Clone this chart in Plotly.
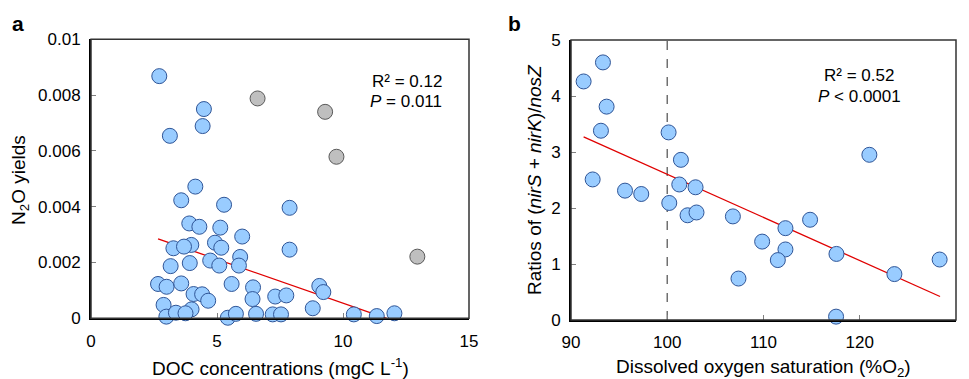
import plotly.graph_objects as go

# ---------- Panel a data ----------
doc_blue = [2.71, 3.13, 4.48, 4.43, 4.14, 3.58, 5.28, 7.88, 3.90, 4.30, 5.13, 6.00, 4.92, 3.98,
            3.27, 3.69, 5.17, 7.88, 5.92, 4.73, 3.92, 3.16, 5.09, 5.87, 2.66, 3.00, 3.58, 5.58,
            6.43, 4.07, 4.41, 4.65, 6.41, 7.31, 7.75, 9.06, 9.22, 8.80, 2.88, 3.99, 2.99, 3.37,
            3.75, 5.43, 5.75, 6.55, 7.21, 7.54, 10.43, 11.34, 12.04]
n2o_blue = [0.00868, 0.00654, 0.00750, 0.00689, 0.00472, 0.00423, 0.00407, 0.00396, 0.00340,
            0.00328, 0.00325, 0.00293, 0.00271, 0.00263, 0.00251, 0.00257, 0.00253, 0.00246,
            0.00220, 0.00207, 0.00198, 0.00187, 0.00189, 0.00189, 0.00123, 0.00113, 0.00125,
            0.00123, 0.00111, 0.00087, 0.00086, 0.00063, 0.00069, 0.00078, 0.00082, 0.00116,
            0.00094, 0.00036, 0.00048, 0.00032, 0.00006, 0.00020, 0.00018, 0.00002, 0.00016,
            0.00016, 0.00014, 0.00014, 0.00014, 0.00008, 0.00018]
doc_grey = [6.61, 9.29, 9.74, 12.95]
n2o_grey = [0.00788, 0.00740, 0.00579, 0.00221]
fit_a_x = [2.66, 11.73]
fit_a_y = [0.00285, 0.0]
a_xticks = [0, 5, 10, 15]
a_yticks = [0, 0.002, 0.004, 0.006, 0.008, 0.01]
a_yticktext = ["0", "0.002", "0.004", "0.006", "0.008", "0.01"]

# ---------- Panel b data ----------
do_sat = [91.31, 93.32, 93.70, 93.11, 100.14, 101.42, 121.0, 92.25, 95.61, 97.30, 101.25,
          102.94, 100.21, 102.11, 103.04, 106.82, 114.84, 112.28, 109.86, 112.28, 111.49,
          117.58, 128.3, 123.6, 107.4, 117.54]
ratio = [4.26, 4.60, 3.81, 3.38, 3.35, 2.86, 2.95, 2.51, 2.31, 2.25, 2.42, 2.37, 2.09, 1.87,
         1.92, 1.85, 1.79, 1.64, 1.40, 1.26, 1.07, 1.18, 1.08, 0.82, 0.74, 0.06]
fit_b_x = [91.31, 128.34]
fit_b_y = [3.27, 0.42]
threshold_x = [100, 100]
threshold_y = [0, 5]
b_xticks = [90, 100, 110, 120, 130]
b_yticks = [0, 1, 2, 3, 4, 5]

FONT = "Liberation Sans, Arial, sans-serif"
blue_fill = "#99CCFF"
blue_line = "#2F5597"
grey_fill = "#BFBFBF"
grey_line = "#595959"

# page body has an 8px margin: figure is drawn at (8, 8) inside the 969x379 window
OFF = 8
W, H = 969 - OFF, 379 - OFF

def px(x):
    return (x - OFF) / W

def py(y):
    return 1 - (y - OFF) / H

fig = go.Figure()

fig.add_trace(go.Scatter(x=fit_a_x, y=fit_a_y, mode="lines",
                         line=dict(color="#E00000", width=1.3), xaxis="x", yaxis="y",
                         showlegend=False))
fig.add_trace(go.Scatter(x=doc_blue, y=n2o_blue, mode="markers",
                         marker=dict(size=15, color=blue_fill, line=dict(color=blue_line, width=1)),
                         xaxis="x", yaxis="y", showlegend=False, cliponaxis=False))
fig.add_trace(go.Scatter(x=doc_grey, y=n2o_grey, mode="markers",
                         marker=dict(size=15, color=grey_fill, line=dict(color=grey_line, width=1)),
                         xaxis="x", yaxis="y", showlegend=False))

fig.add_trace(go.Scatter(x=threshold_x, y=threshold_y, mode="lines",
                         line=dict(color="#707070", width=1.5, dash="dash"),
                         xaxis="x2", yaxis="y2", showlegend=False))
fig.add_trace(go.Scatter(x=fit_b_x, y=fit_b_y, mode="lines",
                         line=dict(color="#E00000", width=1.3), xaxis="x2", yaxis="y2",
                         showlegend=False))
fig.add_trace(go.Scatter(x=do_sat, y=ratio, mode="markers",
                         marker=dict(size=15, color=blue_fill, line=dict(color=blue_line, width=1)),
                         xaxis="x2", yaxis="y2", showlegend=False, cliponaxis=False))

ax_dom_a = [px(91), px(469)]
ay_dom_a = [py(318.3), py(39.3)]
ax_dom_b = [px(571), px(956)]
ay_dom_b = [py(320), py(40)]

common_ax = dict(showgrid=False, zeroline=False, showline=True, linecolor="black", linewidth=2,
                 ticks="inside", ticklen=5, tickcolor="#808080", tickwidth=1, automargin=False,
                 tickfont=dict(family=FONT, size=17, color="black"))

fig.update_layout(
    width=W, height=H, margin=dict(l=0, r=0, t=0, b=0, autoexpand=False),
    plot_bgcolor="white", paper_bgcolor="white",
    xaxis=dict(domain=ax_dom_a, range=[0, 15], tickvals=a_xticks, anchor="y",
               ticklabelstandoff=6, **common_ax),
    yaxis=dict(domain=ay_dom_a, range=[0, 0.01], tickvals=a_yticks, ticktext=a_yticktext,
               anchor="x", ticklabelstandoff=5, **common_ax),
    xaxis2=dict(domain=ax_dom_b, range=[90, 130], tickvals=b_xticks, anchor="y2",
                ticklabelstandoff=6, **common_ax),
    yaxis2=dict(domain=ay_dom_b, range=[0, 5], tickvals=b_yticks, anchor="x2",
                ticklabelstandoff=5, **common_ax),
)

# frames (thin top/right edges)
for xd, yd in [(ax_dom_a, ay_dom_a), (ax_dom_b, ay_dom_b)]:
    fig.add_shape(type="rect", xref="paper", yref="paper", x0=xd[0], x1=xd[1], y0=yd[0], y1=yd[1],
                  line=dict(color="#333333", width=1.5), layer="above")

def ann(text, x, y, size=17, xanchor="center", bold=False, angle=0):
    fig.add_annotation(text=f"<b>{text}</b>" if bold else text, x=px(x), y=py(y),
                       xref="paper", yref="paper", showarrow=False, xanchor=xanchor,
                       yanchor="middle", textangle=angle,
                       font=dict(family=FONT, size=size, color="black"))

ann("a", 18, 23, size=21, bold=True)
ann("b", 514, 23, size=21, bold=True)
ann("R² = 0.12", 444, 81, xanchor="right")
ann("<i>P</i> = 0.011", 444, 101, xanchor="right")
ann("R² = 0.52", 859, 76)
ann("<i>P</i> &lt; 0.0001", 859, 96)
ann("DOC concentrations (mgC L<sup>-1</sup>)", 280, 367, size=19)
ann("Dissolved oxygen saturation (%O<sub>2</sub>)", 763, 368, size=19)
ann("N<sub>2</sub>O yields", 20, 180, size=19, angle=-90)
ann("Ratios of (<i>nirS</i> + <i>nirK</i>)/<i>nosZ</i>", 534, 180, size=19, angle=-90)

fig.write_html("out.html")
